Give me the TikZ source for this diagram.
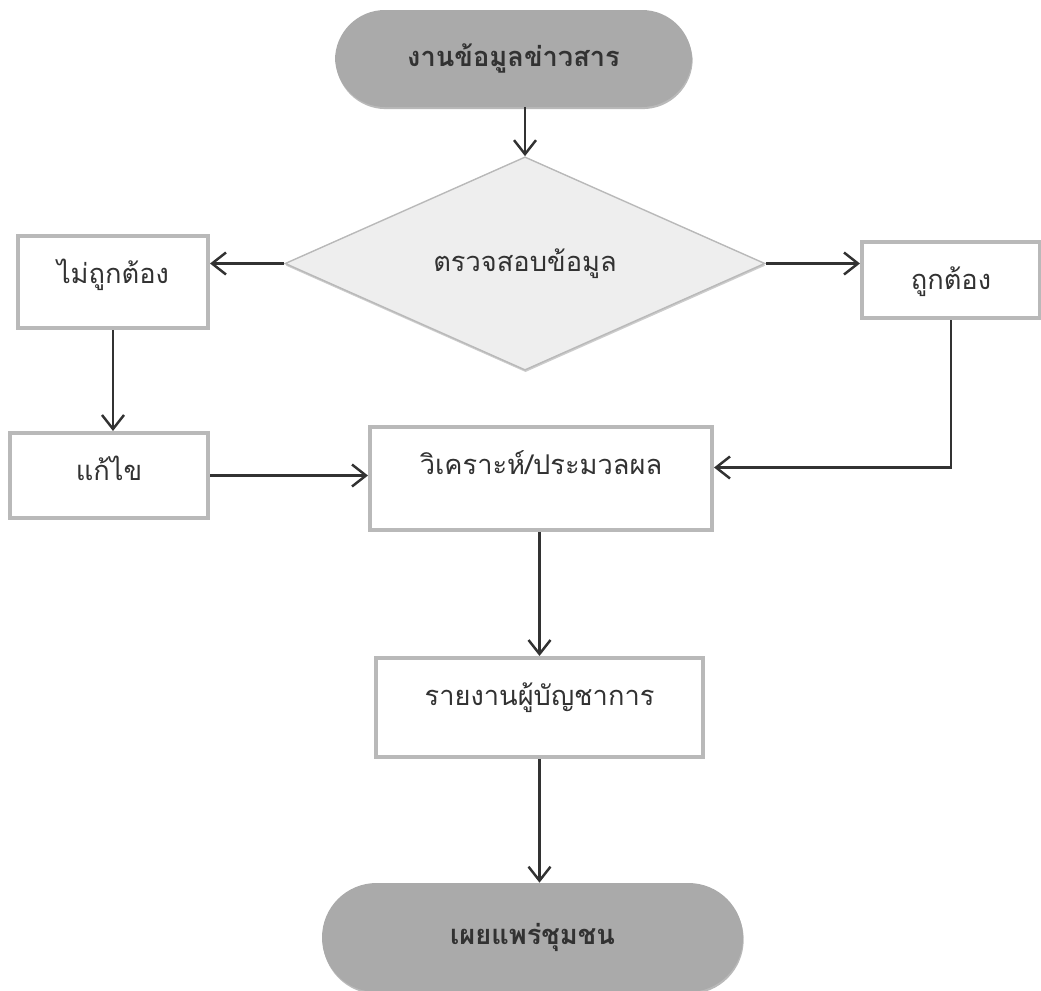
\documentclass[tikz,border=0pt]{standalone}
\usepackage{fontspec}
\newfontfamily\thaifont[Script=Thai]{Loma}
\usetikzlibrary{shapes.geometric,arrows.meta,shadows}
\definecolor{termgray}{RGB}{170,170,170}
\definecolor{edgegray}{RGB}{185,185,185}
\definecolor{inkgray}{RGB}{50,50,50}
\tikzset{
	terminal/.style={draw=none, fill=termgray, rounded corners=1cm, inner sep=0pt,
		drop shadow={shadow xshift=0.4pt, shadow yshift=-1.2pt, opacity=0.55},
		font=\thaifont\fontsize{15.5}{18}\selectfont\bfseries, text=inkgray},
	decide/.style={diamond, draw=edgegray, line width=0.8pt, fill=gray!13, inner sep=0pt,
		drop shadow={shadow xshift=0.3pt, shadow yshift=-1.2pt, opacity=0.4},
		font=\thaifont\fontsize{15.5}{18}\selectfont, text=inkgray},
	procbox/.style={draw=edgegray, line width=2.3pt, fill=white, inner sep=0pt,
		text height=0.94cm, font=\thaifont\fontsize{15.5}{18}\selectfont, text=inkgray},
	flow/.style={draw=inkgray, line width=1.4pt, -{Straight Barb[length=0.28cm,width=0.44cm,line width=1.4pt]}}
}
\begin{document}
\begin{tikzpicture}
	\useasboundingbox (0,0) rectangle (20.82,-19.8);
	% shapes
	\node[terminal, minimum width=7.14cm, minimum height=1.94cm] (start) at (10.27,-1.17) {งานข้อมูลข่าวสาร};
	\node[decide, minimum width=9.6cm, minimum height=3.86cm] (check) at (10.5,-5.27) {ตรวจสอบข้อมูล};
	\node[procbox, minimum width=3.8cm, minimum height=1.84cm, text depth=0.9cm] (wrong) at (2.26,-5.64) {ไม่ถูกต้อง};
	\node[procbox, minimum width=3.56cm, minimum height=1.52cm, text depth=0.58cm] (right) at (19.02,-5.6) {ถูกต้อง};
	\node[procbox, minimum width=3.96cm, minimum height=1.7cm, text depth=0.76cm] (fix) at (2.18,-9.51) {แก้ไข};
	\node[procbox, minimum width=6.84cm, minimum height=2.06cm, text depth=1.12cm] (analyse) at (10.82,-9.57) {วิเคราะห์/ประมวลผล};
	\node[procbox, minimum width=6.54cm, minimum height=1.98cm, text depth=1.04cm] (report) at (10.79,-14.15) {รายงานผู้บัญชาการ};
	\node[terminal, minimum width=8.42cm, minimum height=2.18cm, rounded corners=1.09cm] (finish) at (10.65,-18.75) {เผยแพร่ชุมชน};
	% arrows
	\draw[flow] (start.south -| check.north) -- (check.north);
	\draw[flow] (check.west) -- (check.west -| wrong.east);
	\draw[flow] (check.east) -- (check.east -| right.west);
	\draw[flow] (wrong.south) -- (wrong.south |- fix.north);
	\draw[flow] (fix.east) -- (fix.east -| analyse.west);
	\draw[flow] (right.south) |- ([yshift=0.22cm]analyse.east);
	\draw[flow] (analyse.south -| report.north) -- (report.north);
	\draw[flow] (report.south) -- (report.south |- finish.north);
\end{tikzpicture}
\end{document}
